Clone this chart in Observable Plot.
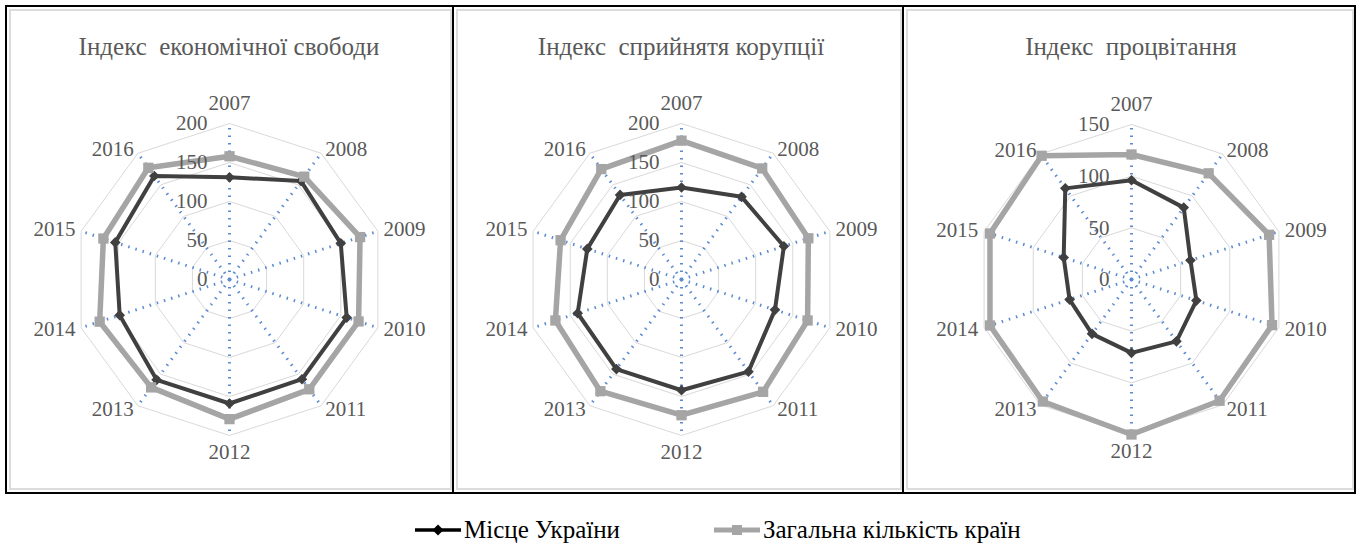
<!DOCTYPE html>
<html><head><meta charset="utf-8">
<script src="https://cdn.jsdelivr.net/npm/d3@7"></script>
<script src="https://cdn.jsdelivr.net/npm/@observablehq/plot@0.6"></script>
<style>
body{margin:0;background:#fff;}
#root{position:relative;width:1362px;height:545px;overflow:hidden;font-family:"Liberation Serif","Times New Roman",serif;}
.box{position:absolute;top:5px;height:489px;border:2px solid #000;box-sizing:border-box;}
.inner{position:absolute;left:2px;top:2px;right:0px;bottom:2px;border:2px solid #dcdcdc;box-sizing:border-box;}
.title{position:absolute;top:33px;height:28px;line-height:28px;font-size:25px;color:#595959;text-align:center;white-space:pre;}
.chart{position:absolute;top:0;}
#legend{position:absolute;top:517px;left:0;width:1362px;height:26px;font-size:25px;color:#000;}
.li{position:absolute;top:0;height:26px;line-height:26px;display:flex;align-items:center;white-space:nowrap;}
</style>
</head><body>
<div id="root"></div>
<script>
const years = ["2007","2008","2009","2010","2011","2012","2013","2014","2015","2016"];
const titles = ["Індекс  економічної свободи", "Індекс  сприйнятя корупції", "Індекс  процвітання"];
const seriesNames = ["Місце України", "Загальна кількість країн"];

const econUkraine = [131, 156, 150, 158, 158, 159, 159, 148, 154, 164];
const econTotal   = [158, 163, 176, 174, 174, 179, 171, 175, 170, 177];
const cpiUkraine  = [118, 131, 138, 126, 146, 142, 142, 140, 127, 134];
const cpiTotal    = [178, 176, 171, 170, 178, 174, 177, 170, 163, 175];
const prospUkraine = [96, 86, 60, 66, 74, 71, 65, 63, 69, 109];
const prospTotal   = [121, 127, 140, 143, 145, 150, 146, 144, 144, 148];

const ticks200 = [0, 50, 100, 150, 200];
const ticks150 = [0, 50, 100, 150];

const FONT = "Liberation Serif, Times New Roman, serif";
const C_UKR = "#404040", C_TOT = "#a5a5a5", C_TXT = "#595959";

const root = document.getElementById("root");

function radar(cfg) {
  const {svgLeft, svgWidth, svgHeight, cx, cy, R, max, ticks, ukr, tot} = cfg;
  const k = 0.01;
  const lonOf = i => 180 - i * 36;
  const latOf = v => 90 - v * k;
  const mk = vals => vals.map((v, i) => ({year: years[i], i, lon: lonOf(i), lat: latOf(v)}));
  const closed = a => a.concat([a[0]]);
  const ukrPts = mk(ukr), totPts = mk(tot);
  const rings = ticks.filter(t => t > 0).flatMap(t => closed(years.map((y, i) => ({t, lon: lonOf(i), lat: latOf(t)}))));
  const tickRows = ticks.map(t => ({t, lon: 180, lat: latOf(t)}));
  const labelRows = years.map((y, i) => ({year: y, i, lon: lonOf(i), lat: latOf(max * (1 + 5 / R))}));
  const mL = cx - svgLeft - R, mT = cy - R;
  const textOpts = {x: "lon", y: "lat", text: "year", fill: C_TXT, fontSize: 21, fontFamily: FONT};
  const plot = Plot.plot({
    width: svgWidth, height: svgHeight,
    marginLeft: mL, marginRight: svgWidth - mL - 2 * R,
    marginTop: mT, marginBottom: svgHeight - mT - 2 * R,
    projection: {
      type: "azimuthal-equidistant", rotate: [0, -90],
      domain: d3.geoCircle().center([0, 90]).radius(max * k)(),
      clip: false
    },
    style: {background: "transparent", overflow: "visible", fontFamily: FONT},
    marks: [
      Plot.line(rings, {x: "lon", y: "lat", z: "t", stroke: "#d9d9d9", strokeWidth: 1}),
      Plot.link(years, {x1: (d, i) => lonOf(i), y1: 90, x2: (d, i) => lonOf(i), y2: latOf(max),
        stroke: "#5b8bd0", strokeWidth: 3, strokeDasharray: "1.5,6"}),
      Plot.line(closed(ukrPts), {x: "lon", y: "lat", stroke: C_UKR, strokeWidth: 4, strokeLinejoin: "round"}),
      Plot.dot(ukrPts, {x: "lon", y: "lat", symbol: "diamond2", r: 4.8, fill: C_UKR, stroke: "none"}),
      Plot.line(closed(totPts), {x: "lon", y: "lat", stroke: C_TOT, strokeWidth: 5.5, strokeLinejoin: "round"}),
      Plot.dot(totPts, {x: "lon", y: "lat", symbol: "square", r: 5.8, fill: C_TOT, stroke: "none"}),
      Plot.text(tickRows, {x: "lon", y: "lat", text: d => String(d.t), textAnchor: "end", dx: -22, fill: C_TXT, fontSize: 21, fontFamily: FONT}),
      Plot.text(labelRows.filter(d => d.i === 0), {...textOpts, textAnchor: "middle", dy: -15}),
      Plot.text(labelRows.filter(d => d.i === 5), {...textOpts, textAnchor: "middle", dy: 12}),
      Plot.text(labelRows.filter(d => d.i > 0 && d.i < 5), {...textOpts, textAnchor: "start", dx: 1}),
      Plot.text(labelRows.filter(d => d.i > 5), {...textOpts, textAnchor: "end", dx: -1})
    ]
  });
  plot.classList.add("chart");
  plot.style.left = svgLeft + "px";
  return plot;
}

const panels = [
  {boxLeft: 5, boxWidth: 449, svgLeft: 6, svgWidth: 446, cx: 229, R: 156, max: 200, ticks: ticks200, ukr: econUkraine, tot: econTotal},
  {boxLeft: 452, boxWidth: 452, svgLeft: 455, svgWidth: 446, cx: 681, R: 156, max: 200, ticks: ticks200, ukr: cpiUkraine, tot: cpiTotal},
  {boxLeft: 902, boxWidth: 454, svgLeft: 905, svgWidth: 448, cx: 1131, R: 155, max: 150, ticks: ticks150, ukr: prospUkraine, tot: prospTotal}
];

panels.forEach((p, idx) => {
  const box = document.createElement("div");
  box.className = "box";
  box.style.left = p.boxLeft + "px";
  box.style.width = p.boxWidth + "px";
  const inner = document.createElement("div");
  inner.className = "inner";
  box.appendChild(inner);
  root.appendChild(box);
  const t = document.createElement("div");
  t.className = "title";
  t.textContent = titles[idx];
  t.style.left = (p.cx - 200) + "px";
  t.style.width = "400px";
  root.appendChild(t);
  root.appendChild(radar({...p, svgHeight: 500, cy: 279}));
});

// legend
const legend = document.createElement("div");
legend.id = "legend";
const ns = "http://www.w3.org/2000/svg";
function swatch(color, sw, symbol) {
  const s = document.createElementNS(ns, "svg");
  s.setAttribute("width", 48); s.setAttribute("height", 20);
  s.style.marginRight = "2px";
  const l = document.createElementNS(ns, "line");
  l.setAttribute("x1", 1); l.setAttribute("x2", 47); l.setAttribute("y1", 10); l.setAttribute("y2", 10);
  l.setAttribute("stroke", color); l.setAttribute("stroke-width", sw);
  s.appendChild(l);
  const m = document.createElementNS(ns, "path");
  if (symbol === "diamond") m.setAttribute("d", "M24,4.5L29.5,10L24,15.5L18.5,10Z");
  else m.setAttribute("d", "M19,5H29V15H19Z");
  m.setAttribute("fill", color);
  s.appendChild(m);
  return s;
}
[[seriesNames[0], "#000", 3.5, "diamond", 414], [seriesNames[1], "#a5a5a5", 5, "square", 713]].forEach(([name, c, w, sym, x]) => {
  const it = document.createElement("div");
  it.className = "li";
  it.style.left = x + "px";
  it.appendChild(swatch(c, w, sym));
  const sp = document.createElement("span");
  sp.textContent = name;
  it.appendChild(sp);
  legend.appendChild(it);
});
root.appendChild(legend);
</script>
</body></html>
